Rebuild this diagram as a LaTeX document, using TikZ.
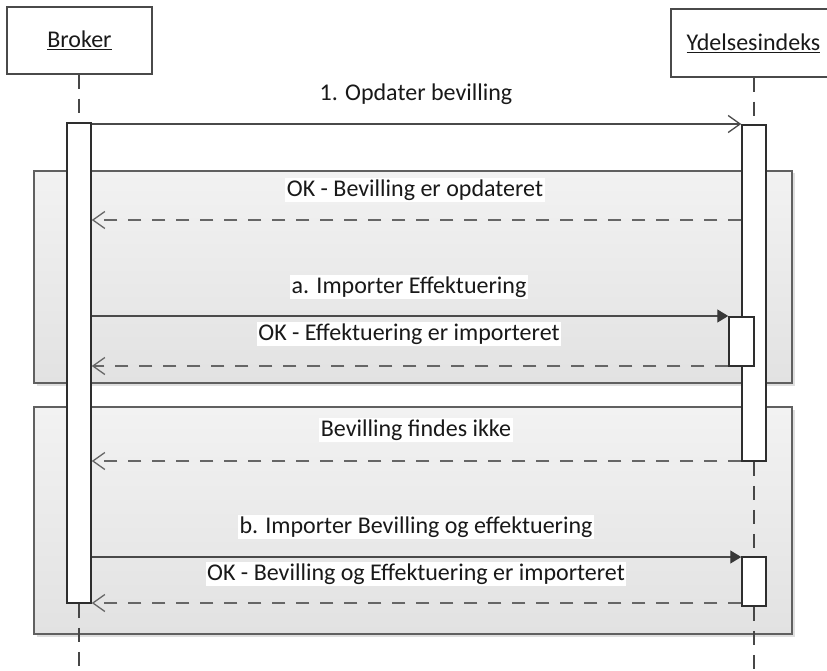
\documentclass[tikz,border=0pt]{standalone}
\usepackage{fontspec}
\setmainfont{Carlito}
\usetikzlibrary{arrows.meta,shadows}
\definecolor{boxline}{HTML}{4A4A4A}
\definecolor{msgline}{HTML}{4A4A4A}
\definecolor{retline}{HTML}{666666}
\definecolor{frtop}{HTML}{F2F2F2}
\definecolor{frbot}{HTML}{E2E2E2}
\definecolor{frline}{HTML}{606060}
\tikzset{
  actor/.style={draw=boxline, line width=1.4pt, fill=white, inner sep=0pt},
  framebox/.style={draw=frline, line width=1.4pt, top color=frtop, bottom color=frbot, inner sep=0pt,
    drop shadow={shadow xshift=2.5pt, shadow yshift=-2.5pt, fill=black!25, opacity=0.5}},
  bar/.style={draw=black!82, line width=1.5pt, fill=white, inner sep=0pt, minimum width=24pt},
  life/.style={draw=black!72, line width=1.5pt, dash pattern=on 14pt off 10pt},
  msg/.style={draw=msgline, line width=1.4pt},
  openhead/.style={-{Straight Barb[length=12pt,width=17pt,line width=1.3pt]}},
  fullhead/.style={-{Triangle[length=11pt,width=13pt,fill=black!78,color=black!78]}},
  ret/.style={draw=retline, line width=1.6pt, dash pattern=on 13pt off 11pt, -{Straight Barb[length=12pt,width=17pt,line width=1.3pt]}},
  txt/.style={font=\fontsize{24}{27}\selectfont, text=black!90},
  lbl/.style={txt, fill=white, inner sep=1.5pt},
}
\begin{document}
\begin{tikzpicture}[x=1pt,y=-1pt]
\useasboundingbox (0,0) rectangle (827,671);
% actors
\node[actor, minimum width=145pt, minimum height=67pt] (broker) at (79.5,40.5) {};
\node[txt] (brokerT) at (79.5,40) {\underline{Broker}};
\node[actor, minimum width=165pt, minimum height=68pt] (ydel) at (753.5,43) {};
\node[txt] (ydelT) at (753.5,43) {\underline{Ydelsesindeks}};
% frames
\node[framebox, minimum width=758pt, minimum height=212pt] (f1) at (413,277) {};
\node[framebox, minimum width=758pt, minimum height=227pt] (f2) at (413,520.5) {};
% lifeline ends
\coordinate (bEnd) at (79,671);
\coordinate (yEnd) at (754,671);
% bars
\node[bar, minimum height=480pt] (bB) at (79,363) {};
\node[bar, minimum height=336pt] (yB) at (754,293) {};
\node[bar, minimum width=25pt, minimum height=49pt] (yA1) at (741.5,341.5) {};
\node[bar, minimum height=49pt] (yA2) at (754,581.5) {};
% lifelines
\draw[life] (broker.south -| bB) -- (bB.north);
\draw[life] (bB.south) -- (bEnd);
\draw[life] (ydel.south -| yB) -- (yB.north);
\draw[life] (yB.south) -- (yA2.north);
\draw[life] (yA2.south) -- (yEnd);
% redraw bars on top of lifelines
\node[bar, minimum height=480pt] at (bB) {};
\node[bar, minimum height=336pt] at (yB) {};
\node[bar, minimum width=25pt, minimum height=49pt] at (yA1) {};
\node[bar, minimum height=49pt] at (yA2) {};
% messages
\draw[msg, openhead] (bB.east |- 0,124) -- (yB.west |- 0,124);
\draw[ret] (yB.west |- 0,220) -- (bB.east |- 0,220);
\draw[msg, fullhead] (bB.east |- 0,316) -- (yA1.west |- 0,316);
\draw[ret] (yA1.west |- 0,366) -- (bB.east |- 0,366);
\draw[ret] (yB.west |- 0,461) -- (bB.east |- 0,461);
\draw[msg, fullhead] (bB.east |- 0,557) -- (yA2.west |- 0,557);
\draw[ret] (yA2.west |- 0,603) -- (bB.east |- 0,603);
% labels
\node[lbl] (l1) at (416,94) {1. Opdater bevilling};
\node[lbl] (l2) at (415,190) {OK - Bevilling er opdateret};
\node[lbl] (l3) at (409,287) {a. Importer Effektuering};
\node[lbl] (l4) at (409,334) {OK - Effektuering er importeret};
\node[lbl] (l5) at (416,430) {Bevilling findes ikke};
\node[lbl] (l6) at (416,527) {b. Importer Bevilling og effektuering};
\node[lbl] (l7) at (416,574) {OK - Bevilling og Effektuering er importeret};
\end{tikzpicture}
\end{document}
